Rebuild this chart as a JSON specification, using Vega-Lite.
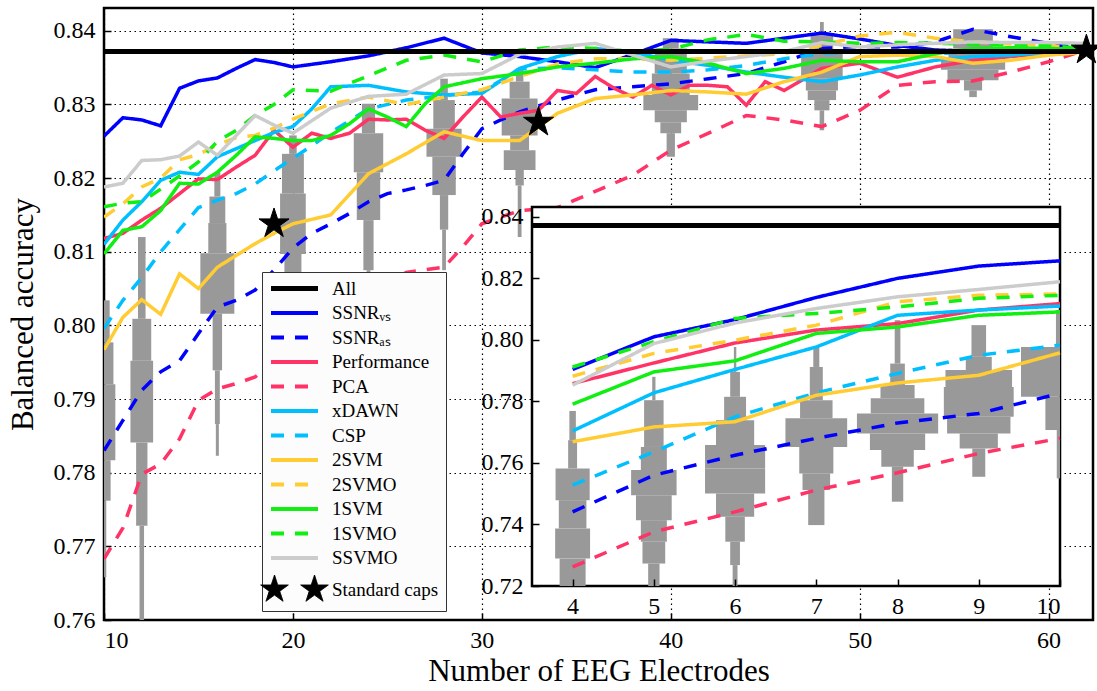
{
  "$schema": "https://vega.github.io/schema/vega-lite/v6.json",
  "width": 989,
  "height": 612,
  "autosize": {"type": "none"},
  "padding": {"left": 104, "top": 8, "right": 4, "bottom": 71},
  "background": "white",
  "config": {
    "font": "Liberation Serif",
    "view": {"stroke": "black", "strokeWidth": 2.5},
    "style": {"guide-label": {"font": "Liberation Serif"}, "guide-title": {"font": "Liberation Serif"}},
    "axis": {
      "labelFont": "Liberation Serif", "labelFontSize": 24, "labelColor": "black",
      "titleFont": "Liberation Serif", "titleFontSize": 31, "titleFontWeight": "normal", "titleColor": "black",
      "grid": true, "gridColor": "black", "gridDash": [1.5, 3.5], "gridWidth": 1.2, "gridOpacity": 1,
      "domain": false, "tickColor": "black", "tickWidth": 1.5, "tickSize": -7, "labelPadding": 16
    }
  },
  "datasets": {
    "all": [{"a": 0.8372}],
    "caps": [{"n": 19, "a": 0.8138}, {"n": 33, "a": 0.8276}, {"n": 62, "a": 0.8374}],
    "viol": [
      {"n":10,"lo":0.7977,"hi":0.8034,"w":0.3},{"n":10,"lo":0.7920,"hi":0.7977,"w":0.5},{"n":10,"lo":0.7817,"hi":0.7920,"w":0.6},{"n":10,"lo":0.7762,"hi":0.7817,"w":0.35},{"n":10,"lo":0.7658,"hi":0.7762,"w":0.12},
      {"n":12,"lo":0.8009,"hi":0.8120,"w":0.2},{"n":12,"lo":0.7952,"hi":0.8009,"w":0.5},{"n":12,"lo":0.7841,"hi":0.7952,"w":0.6},{"n":12,"lo":0.7728,"hi":0.7841,"w":0.3},{"n":12,"lo":0.7550,"hi":0.7728,"w":0.12},
      {"n":16,"lo":0.8175,"hi":0.8208,"w":0.16},{"n":16,"lo":0.8139,"hi":0.8175,"w":0.42},{"n":16,"lo":0.8098,"hi":0.8139,"w":0.48},{"n":16,"lo":0.8016,"hi":0.8098,"w":0.9},{"n":16,"lo":0.7939,"hi":0.8016,"w":0.25},{"n":16,"lo":0.7866,"hi":0.7939,"w":0.13},{"n":16,"lo":0.7823,"hi":0.7866,"w":0.08},
      {"n":20,"lo":0.8233,"hi":0.8258,"w":0.2},{"n":20,"lo":0.8179,"hi":0.8233,"w":0.58},{"n":20,"lo":0.8097,"hi":0.8179,"w":0.68},{"n":20,"lo":0.8060,"hi":0.8097,"w":0.45},
      {"n":24,"lo":0.8261,"hi":0.8301,"w":0.35},{"n":24,"lo":0.8208,"hi":0.8261,"w":0.78},{"n":24,"lo":0.8143,"hi":0.8208,"w":0.62},{"n":24,"lo":0.8075,"hi":0.8143,"w":0.27},{"n":24,"lo":0.8030,"hi":0.8075,"w":0.1},
      {"n":28,"lo":0.8306,"hi":0.8335,"w":0.2},{"n":28,"lo":0.8267,"hi":0.8306,"w":0.57},{"n":28,"lo":0.8229,"hi":0.8267,"w":0.93},{"n":28,"lo":0.8177,"hi":0.8229,"w":0.62},{"n":28,"lo":0.8130,"hi":0.8177,"w":0.22},{"n":28,"lo":0.8075,"hi":0.8130,"w":0.1},
      {"n":32,"lo":0.8331,"hi":0.8349,"w":0.2},{"n":32,"lo":0.8308,"hi":0.8331,"w":0.53},{"n":32,"lo":0.8258,"hi":0.8308,"w":0.95},{"n":32,"lo":0.8238,"hi":0.8258,"w":0.5},{"n":32,"lo":0.8211,"hi":0.8238,"w":0.84},{"n":32,"lo":0.8190,"hi":0.8211,"w":0.22},{"n":32,"lo":0.8120,"hi":0.8190,"w":0.1},
      {"n":40,"lo":0.8376,"hi":0.8390,"w":0.42},{"n":40,"lo":0.8342,"hi":0.8376,"w":0.85},{"n":40,"lo":0.8313,"hi":0.8342,"w":1.0},{"n":40,"lo":0.8292,"hi":0.8313,"w":1.45},{"n":40,"lo":0.8276,"hi":0.8292,"w":0.85},{"n":40,"lo":0.8261,"hi":0.8276,"w":0.55},{"n":40,"lo":0.8229,"hi":0.8261,"w":0.22},
      {"n":48,"lo":0.8395,"hi":0.8412,"w":0.1},{"n":48,"lo":0.8374,"hi":0.8395,"w":0.6},{"n":48,"lo":0.8335,"hi":0.8374,"w":1.1},{"n":48,"lo":0.8319,"hi":0.8335,"w":0.85},{"n":48,"lo":0.8306,"hi":0.8319,"w":0.75},{"n":48,"lo":0.8292,"hi":0.8306,"w":0.4},{"n":48,"lo":0.8265,"hi":0.8292,"w":0.12},
      {"n":56,"lo":0.8376,"hi":0.8402,"w":1.05},{"n":56,"lo":0.8360,"hi":0.8376,"w":1.3},{"n":56,"lo":0.8347,"hi":0.8360,"w":1.7},{"n":56,"lo":0.8333,"hi":0.8347,"w":1.35},{"n":56,"lo":0.8319,"hi":0.8333,"w":0.48},{"n":56,"lo":0.8310,"hi":0.8319,"w":0.2}
    ],
    "iviol": [
      {"n":4,"lo":0.7674,"hi":0.7769,"w":0.04},{"n":4,"lo":0.7582,"hi":0.7674,"w":0.055},{"n":4,"lo":0.7479,"hi":0.7582,"w":0.21},{"n":4,"lo":0.7387,"hi":0.7479,"w":0.17},{"n":4,"lo":0.7289,"hi":0.7387,"w":0.215},{"n":4,"lo":0.72,"hi":0.7289,"w":0.16},
      {"n":5,"lo":0.7804,"hi":0.7880,"w":0.02},{"n":5,"lo":0.7652,"hi":0.7804,"w":0.12},{"n":5,"lo":0.7577,"hi":0.7652,"w":0.16},{"n":5,"lo":0.7495,"hi":0.7577,"w":0.28},{"n":5,"lo":0.7414,"hi":0.7495,"w":0.22},{"n":5,"lo":0.7344,"hi":0.7414,"w":0.16},{"n":5,"lo":0.7273,"hi":0.7344,"w":0.14},{"n":5,"lo":0.72,"hi":0.7273,"w":0.07},
      {"n":6,"lo":0.7896,"hi":0.7977,"w":0.015},{"n":6,"lo":0.7815,"hi":0.7896,"w":0.06},{"n":6,"lo":0.7739,"hi":0.7815,"w":0.135},{"n":6,"lo":0.7658,"hi":0.7739,"w":0.235},{"n":6,"lo":0.7582,"hi":0.7658,"w":0.37},{"n":6,"lo":0.7501,"hi":0.7582,"w":0.37},{"n":6,"lo":0.7425,"hi":0.7501,"w":0.235},{"n":6,"lo":0.7344,"hi":0.7425,"w":0.12},{"n":6,"lo":0.7268,"hi":0.7344,"w":0.06},{"n":6,"lo":0.72,"hi":0.7268,"w":0.03},
      {"n":7,"lo":0.7912,"hi":0.7977,"w":0.037},{"n":7,"lo":0.7804,"hi":0.7912,"w":0.08},{"n":7,"lo":0.7745,"hi":0.7804,"w":0.2},{"n":7,"lo":0.7652,"hi":0.7745,"w":0.38},{"n":7,"lo":0.7566,"hi":0.7652,"w":0.21},{"n":7,"lo":0.7512,"hi":0.7566,"w":0.17},{"n":7,"lo":0.7398,"hi":0.7512,"w":0.1},
      {"n":8,"lo":0.7923,"hi":0.8064,"w":0.035},{"n":8,"lo":0.7853,"hi":0.7923,"w":0.09},{"n":8,"lo":0.7810,"hi":0.7853,"w":0.21},{"n":8,"lo":0.7761,"hi":0.7810,"w":0.33},{"n":8,"lo":0.7696,"hi":0.7761,"w":0.5},{"n":8,"lo":0.7642,"hi":0.7696,"w":0.34},{"n":8,"lo":0.7588,"hi":0.7642,"w":0.2},{"n":8,"lo":0.7474,"hi":0.7588,"w":0.07},
      {"n":9,"lo":0.7945,"hi":0.8048,"w":0.09},{"n":9,"lo":0.7902,"hi":0.7945,"w":0.16},{"n":9,"lo":0.7847,"hi":0.7902,"w":0.41},{"n":9,"lo":0.7750,"hi":0.7847,"w":0.43},{"n":9,"lo":0.7696,"hi":0.7750,"w":0.39},{"n":9,"lo":0.7647,"hi":0.7696,"w":0.235},{"n":9,"lo":0.7555,"hi":0.7647,"w":0.08},
      {"n":10,"lo":0.7977,"hi":0.8097,"w":0.05},{"n":10,"lo":0.7815,"hi":0.7977,"w":0.48},{"n":10,"lo":0.7707,"hi":0.7815,"w":0.18},{"n":10,"lo":0.7550,"hi":0.7707,"w":0.04}
    ],
    "lines": [
      {"s":"SSNR_VS","n":10,"a":0.8257},{"s":"SSNR_VS","n":11,"a":0.8282},{"s":"SSNR_VS","n":12,"a":0.8279},{"s":"SSNR_VS","n":13,"a":0.8271},{"s":"SSNR_VS","n":14,"a":0.8322},{"s":"SSNR_VS","n":15,"a":0.8332},{"s":"SSNR_VS","n":16,"a":0.8336},{"s":"SSNR_VS","n":17,"a":0.8349},{"s":"SSNR_VS","n":18,"a":0.8361},{"s":"SSNR_VS","n":19,"a":0.8357},{"s":"SSNR_VS","n":20,"a":0.8351},{"s":"SSNR_VS","n":22,"a":0.8358},{"s":"SSNR_VS","n":24,"a":0.8366},{"s":"SSNR_VS","n":26,"a":0.8377},{"s":"SSNR_VS","n":28,"a":0.8390},{"s":"SSNR_VS","n":30,"a":0.8370},{"s":"SSNR_VS","n":32,"a":0.8365},{"s":"SSNR_VS","n":34,"a":0.8358},{"s":"SSNR_VS","n":36,"a":0.8350},{"s":"SSNR_VS","n":38,"a":0.8368},{"s":"SSNR_VS","n":40,"a":0.8387},{"s":"SSNR_VS","n":42,"a":0.8385},{"s":"SSNR_VS","n":44,"a":0.8383},{"s":"SSNR_VS","n":46,"a":0.8390},{"s":"SSNR_VS","n":48,"a":0.8397},{"s":"SSNR_VS","n":50,"a":0.8389},{"s":"SSNR_VS","n":52,"a":0.8380},{"s":"SSNR_VS","n":54,"a":0.8374},{"s":"SSNR_VS","n":56,"a":0.8372},{"s":"SSNR_VS","n":58,"a":0.8373},{"s":"SSNR_VS","n":60,"a":0.8373},{"s":"SSNR_VS","n":62,"a":0.8373},
      {"s":"SSNR_AS","n":10,"a":0.7830},{"s":"SSNR_AS","n":11,"a":0.7871},{"s":"SSNR_AS","n":12,"a":0.7912},{"s":"SSNR_AS","n":13,"a":0.7937},{"s":"SSNR_AS","n":14,"a":0.7952},{"s":"SSNR_AS","n":15,"a":0.7989},{"s":"SSNR_AS","n":16,"a":0.8025},{"s":"SSNR_AS","n":17,"a":0.8034},{"s":"SSNR_AS","n":18,"a":0.8048},{"s":"SSNR_AS","n":19,"a":0.8075},{"s":"SSNR_AS","n":20,"a":0.8105},{"s":"SSNR_AS","n":21,"a":0.8125},{"s":"SSNR_AS","n":22,"a":0.8138},{"s":"SSNR_AS","n":23,"a":0.8152},{"s":"SSNR_AS","n":24,"a":0.8168},{"s":"SSNR_AS","n":25,"a":0.8179},{"s":"SSNR_AS","n":26,"a":0.8184},{"s":"SSNR_AS","n":27,"a":0.8190},{"s":"SSNR_AS","n":28,"a":0.8197},{"s":"SSNR_AS","n":29,"a":0.8233},{"s":"SSNR_AS","n":30,"a":0.8267},{"s":"SSNR_AS","n":31,"a":0.8279},{"s":"SSNR_AS","n":32,"a":0.8290},{"s":"SSNR_AS","n":34,"a":0.8306},{"s":"SSNR_AS","n":36,"a":0.8320},{"s":"SSNR_AS","n":38,"a":0.8324},{"s":"SSNR_AS","n":40,"a":0.8328},{"s":"SSNR_AS","n":42,"a":0.8335},{"s":"SSNR_AS","n":44,"a":0.8342},{"s":"SSNR_AS","n":46,"a":0.8358},{"s":"SSNR_AS","n":48,"a":0.8376},{"s":"SSNR_AS","n":50,"a":0.8379},{"s":"SSNR_AS","n":52,"a":0.8378},{"s":"SSNR_AS","n":54,"a":0.8385},{"s":"SSNR_AS","n":56,"a":0.8402},{"s":"SSNR_AS","n":58,"a":0.8392},{"s":"SSNR_AS","n":60,"a":0.8383},{"s":"SSNR_AS","n":62,"a":0.8375},
      {"s":"Performance","n":10,"a":0.8118},{"s":"Performance","n":11,"a":0.8125},{"s":"Performance","n":12,"a":0.8143},{"s":"Performance","n":13,"a":0.8159},{"s":"Performance","n":14,"a":0.8179},{"s":"Performance","n":15,"a":0.8199},{"s":"Performance","n":16,"a":0.8198},{"s":"Performance","n":17,"a":0.8215},{"s":"Performance","n":18,"a":0.8231},{"s":"Performance","n":19,"a":0.8265},{"s":"Performance","n":20,"a":0.8242},{"s":"Performance","n":21,"a":0.8261},{"s":"Performance","n":22,"a":0.8254},{"s":"Performance","n":23,"a":0.8261},{"s":"Performance","n":24,"a":0.8280},{"s":"Performance","n":25,"a":0.8279},{"s":"Performance","n":26,"a":0.8280},{"s":"Performance","n":27,"a":0.8265},{"s":"Performance","n":28,"a":0.8254},{"s":"Performance","n":29,"a":0.8283},{"s":"Performance","n":30,"a":0.8310},{"s":"Performance","n":31,"a":0.8283},{"s":"Performance","n":32,"a":0.8288},{"s":"Performance","n":33,"a":0.8292},{"s":"Performance","n":34,"a":0.8319},{"s":"Performance","n":35,"a":0.8315},{"s":"Performance","n":36,"a":0.8338},{"s":"Performance","n":37,"a":0.8322},{"s":"Performance","n":38,"a":0.8310},{"s":"Performance","n":39,"a":0.8326},{"s":"Performance","n":40,"a":0.8313},{"s":"Performance","n":41,"a":0.8326},{"s":"Performance","n":42,"a":0.8326},{"s":"Performance","n":43,"a":0.8324},{"s":"Performance","n":44,"a":0.8299},{"s":"Performance","n":45,"a":0.8331},{"s":"Performance","n":46,"a":0.8319},{"s":"Performance","n":48,"a":0.8349},{"s":"Performance","n":50,"a":0.8356},{"s":"Performance","n":52,"a":0.8337},{"s":"Performance","n":54,"a":0.8351},{"s":"Performance","n":56,"a":0.8360},{"s":"Performance","n":58,"a":0.8365},{"s":"Performance","n":60,"a":0.8369},{"s":"Performance","n":62,"a":0.8374},
      {"s":"PCA","n":10,"a":0.7683},{"s":"PCA","n":11,"a":0.7725},{"s":"PCA","n":12,"a":0.7798},{"s":"PCA","n":13,"a":0.7812},{"s":"PCA","n":14,"a":0.7846},{"s":"PCA","n":15,"a":0.7898},{"s":"PCA","n":16,"a":0.7914},{"s":"PCA","n":17,"a":0.7921},{"s":"PCA","n":18,"a":0.7930},{"s":"PCA","n":20,"a":0.7975},{"s":"PCA","n":22,"a":0.8015},{"s":"PCA","n":24,"a":0.8045},{"s":"PCA","n":26,"a":0.8072},{"s":"PCA","n":28,"a":0.8079},{"s":"PCA","n":29,"a":0.8107},{"s":"PCA","n":30,"a":0.8138},{"s":"PCA","n":32,"a":0.8156},{"s":"PCA","n":34,"a":0.8160},{"s":"PCA","n":36,"a":0.8182},{"s":"PCA","n":38,"a":0.8204},{"s":"PCA","n":40,"a":0.8238},{"s":"PCA","n":42,"a":0.8261},{"s":"PCA","n":44,"a":0.8285},{"s":"PCA","n":46,"a":0.8279},{"s":"PCA","n":48,"a":0.8270},{"s":"PCA","n":50,"a":0.8292},{"s":"PCA","n":52,"a":0.8326},{"s":"PCA","n":54,"a":0.8331},{"s":"PCA","n":56,"a":0.8332},{"s":"PCA","n":58,"a":0.8344},{"s":"PCA","n":60,"a":0.8358},{"s":"PCA","n":62,"a":0.8374},
      {"s":"xDAWN","n":10,"a":0.8110},{"s":"xDAWN","n":11,"a":0.8143},{"s":"xDAWN","n":12,"a":0.8168},{"s":"xDAWN","n":13,"a":0.8197},{"s":"xDAWN","n":14,"a":0.8208},{"s":"xDAWN","n":15,"a":0.8205},{"s":"xDAWN","n":16,"a":0.8229},{"s":"xDAWN","n":17,"a":0.8240},{"s":"xDAWN","n":18,"a":0.8251},{"s":"xDAWN","n":19,"a":0.8262},{"s":"xDAWN","n":20,"a":0.8270},{"s":"xDAWN","n":21,"a":0.8294},{"s":"xDAWN","n":22,"a":0.8324},{"s":"xDAWN","n":24,"a":0.8326},{"s":"xDAWN","n":26,"a":0.8317},{"s":"xDAWN","n":28,"a":0.8313},{"s":"xDAWN","n":30,"a":0.8315},{"s":"xDAWN","n":32,"a":0.8349},{"s":"xDAWN","n":34,"a":0.8365},{"s":"xDAWN","n":36,"a":0.8376},{"s":"xDAWN","n":38,"a":0.8371},{"s":"xDAWN","n":40,"a":0.8360},{"s":"xDAWN","n":42,"a":0.8353},{"s":"xDAWN","n":44,"a":0.8344},{"s":"xDAWN","n":46,"a":0.8337},{"s":"xDAWN","n":48,"a":0.8331},{"s":"xDAWN","n":50,"a":0.8340},{"s":"xDAWN","n":52,"a":0.8351},{"s":"xDAWN","n":54,"a":0.8360},{"s":"xDAWN","n":56,"a":0.8365},{"s":"xDAWN","n":58,"a":0.8367},{"s":"xDAWN","n":60,"a":0.8371},{"s":"xDAWN","n":62,"a":0.8374},
      {"s":"CSP","n":10,"a":0.7996},{"s":"CSP","n":11,"a":0.8034},{"s":"CSP","n":12,"a":0.8065},{"s":"CSP","n":13,"a":0.8100},{"s":"CSP","n":14,"a":0.8130},{"s":"CSP","n":15,"a":0.8160},{"s":"CSP","n":16,"a":0.8170},{"s":"CSP","n":17,"a":0.8179},{"s":"CSP","n":18,"a":0.8192},{"s":"CSP","n":19,"a":0.8210},{"s":"CSP","n":20,"a":0.8227},{"s":"CSP","n":21,"a":0.8244},{"s":"CSP","n":22,"a":0.8262},{"s":"CSP","n":24,"a":0.8294},{"s":"CSP","n":26,"a":0.8306},{"s":"CSP","n":28,"a":0.8312},{"s":"CSP","n":30,"a":0.8317},{"s":"CSP","n":32,"a":0.8348},{"s":"CSP","n":34,"a":0.8350},{"s":"CSP","n":36,"a":0.8347},{"s":"CSP","n":38,"a":0.8344},{"s":"CSP","n":40,"a":0.8344},{"s":"CSP","n":42,"a":0.8347},{"s":"CSP","n":44,"a":0.8353},{"s":"CSP","n":46,"a":0.8362},{"s":"CSP","n":48,"a":0.8369},{"s":"CSP","n":50,"a":0.8372},{"s":"CSP","n":52,"a":0.8370},{"s":"CSP","n":54,"a":0.8369},{"s":"CSP","n":56,"a":0.8371},{"s":"CSP","n":58,"a":0.8372},{"s":"CSP","n":60,"a":0.8373},{"s":"CSP","n":62,"a":0.8374},
      {"s":"2SVM","n":10,"a":0.7967},{"s":"2SVM","n":11,"a":0.8011},{"s":"2SVM","n":12,"a":0.8035},{"s":"2SVM","n":13,"a":0.8015},{"s":"2SVM","n":14,"a":0.8070},{"s":"2SVM","n":15,"a":0.8050},{"s":"2SVM","n":16,"a":0.8079},{"s":"2SVM","n":17,"a":0.8095},{"s":"2SVM","n":18,"a":0.8111},{"s":"2SVM","n":19,"a":0.8125},{"s":"2SVM","n":20,"a":0.8138},{"s":"2SVM","n":22,"a":0.8150},{"s":"2SVM","n":24,"a":0.8206},{"s":"2SVM","n":26,"a":0.8233},{"s":"2SVM","n":28,"a":0.8263},{"s":"2SVM","n":30,"a":0.8251},{"s":"2SVM","n":32,"a":0.8251},{"s":"2SVM","n":34,"a":0.8288},{"s":"2SVM","n":36,"a":0.8308},{"s":"2SVM","n":38,"a":0.8313},{"s":"2SVM","n":40,"a":0.8319},{"s":"2SVM","n":42,"a":0.8317},{"s":"2SVM","n":44,"a":0.8314},{"s":"2SVM","n":46,"a":0.8331},{"s":"2SVM","n":48,"a":0.8344},{"s":"2SVM","n":50,"a":0.8365},{"s":"2SVM","n":52,"a":0.8367},{"s":"2SVM","n":54,"a":0.8365},{"s":"2SVM","n":56,"a":0.8356},{"s":"2SVM","n":58,"a":0.8360},{"s":"2SVM","n":60,"a":0.8367},{"s":"2SVM","n":62,"a":0.8371},
      {"s":"2SVMO","n":10,"a":0.8147},{"s":"2SVMO","n":11,"a":0.8165},{"s":"2SVMO","n":12,"a":0.8188},{"s":"2SVMO","n":13,"a":0.8200},{"s":"2SVMO","n":14,"a":0.8225},{"s":"2SVMO","n":15,"a":0.8232},{"s":"2SVMO","n":16,"a":0.8245},{"s":"2SVMO","n":17,"a":0.8255},{"s":"2SVMO","n":18,"a":0.8258},{"s":"2SVMO","n":19,"a":0.8268},{"s":"2SVMO","n":20,"a":0.8280},{"s":"2SVMO","n":22,"a":0.8301},{"s":"2SVMO","n":24,"a":0.8310},{"s":"2SVMO","n":26,"a":0.8300},{"s":"2SVMO","n":28,"a":0.8310},{"s":"2SVMO","n":30,"a":0.8320},{"s":"2SVMO","n":32,"a":0.8338},{"s":"2SVMO","n":34,"a":0.8355},{"s":"2SVMO","n":36,"a":0.8362},{"s":"2SVMO","n":38,"a":0.8362},{"s":"2SVMO","n":40,"a":0.8360},{"s":"2SVMO","n":42,"a":0.8363},{"s":"2SVMO","n":44,"a":0.8366},{"s":"2SVMO","n":46,"a":0.8369},{"s":"2SVMO","n":48,"a":0.8380},{"s":"2SVMO","n":50,"a":0.8393},{"s":"2SVMO","n":52,"a":0.8398},{"s":"2SVMO","n":54,"a":0.8390},{"s":"2SVMO","n":56,"a":0.8385},{"s":"2SVMO","n":58,"a":0.8382},{"s":"2SVMO","n":60,"a":0.8380},{"s":"2SVMO","n":62,"a":0.8375},
      {"s":"1SVM","n":10,"a":0.8097},{"s":"1SVM","n":11,"a":0.8129},{"s":"1SVM","n":12,"a":0.8134},{"s":"1SVM","n":13,"a":0.8156},{"s":"1SVM","n":14,"a":0.8193},{"s":"1SVM","n":15,"a":0.8192},{"s":"1SVM","n":16,"a":0.8208},{"s":"1SVM","n":17,"a":0.8231},{"s":"1SVM","n":18,"a":0.8256},{"s":"1SVM","n":19,"a":0.8254},{"s":"1SVM","n":20,"a":0.8251},{"s":"1SVM","n":21,"a":0.8251},{"s":"1SVM","n":22,"a":0.8258},{"s":"1SVM","n":23,"a":0.8274},{"s":"1SVM","n":24,"a":0.8294},{"s":"1SVM","n":25,"a":0.8283},{"s":"1SVM","n":26,"a":0.8270},{"s":"1SVM","n":27,"a":0.8301},{"s":"1SVM","n":28,"a":0.8324},{"s":"1SVM","n":30,"a":0.8335},{"s":"1SVM","n":32,"a":0.8342},{"s":"1SVM","n":34,"a":0.8351},{"s":"1SVM","n":36,"a":0.8356},{"s":"1SVM","n":38,"a":0.8362},{"s":"1SVM","n":40,"a":0.8365},{"s":"1SVM","n":42,"a":0.8356},{"s":"1SVM","n":44,"a":0.8342},{"s":"1SVM","n":46,"a":0.8349},{"s":"1SVM","n":48,"a":0.8360},{"s":"1SVM","n":50,"a":0.8358},{"s":"1SVM","n":52,"a":0.8358},{"s":"1SVM","n":54,"a":0.8369},{"s":"1SVM","n":56,"a":0.8376},{"s":"1SVM","n":58,"a":0.8377},{"s":"1SVM","n":60,"a":0.8376},{"s":"1SVM","n":62,"a":0.8375},
      {"s":"1SVMO","n":10,"a":0.8161},{"s":"1SVMO","n":11,"a":0.8166},{"s":"1SVMO","n":12,"a":0.8168},{"s":"1SVMO","n":13,"a":0.8185},{"s":"1SVMO","n":14,"a":0.8203},{"s":"1SVMO","n":15,"a":0.8222},{"s":"1SVMO","n":16,"a":0.8250},{"s":"1SVMO","n":17,"a":0.8265},{"s":"1SVMO","n":18,"a":0.8285},{"s":"1SVMO","n":19,"a":0.8300},{"s":"1SVMO","n":20,"a":0.8320},{"s":"1SVMO","n":22,"a":0.8318},{"s":"1SVMO","n":24,"a":0.8339},{"s":"1SVMO","n":26,"a":0.8360},{"s":"1SVMO","n":28,"a":0.8367},{"s":"1SVMO","n":30,"a":0.8358},{"s":"1SVMO","n":32,"a":0.8374},{"s":"1SVMO","n":34,"a":0.8378},{"s":"1SVMO","n":36,"a":0.8376},{"s":"1SVMO","n":38,"a":0.8372},{"s":"1SVMO","n":40,"a":0.8375},{"s":"1SVMO","n":42,"a":0.8388},{"s":"1SVMO","n":44,"a":0.8395},{"s":"1SVMO","n":46,"a":0.8386},{"s":"1SVMO","n":48,"a":0.8385},{"s":"1SVMO","n":50,"a":0.8383},{"s":"1SVMO","n":52,"a":0.8384},{"s":"1SVMO","n":54,"a":0.8383},{"s":"1SVMO","n":56,"a":0.8382},{"s":"1SVMO","n":58,"a":0.8381},{"s":"1SVMO","n":60,"a":0.8380},{"s":"1SVMO","n":62,"a":0.8376},
      {"s":"SSVMO","n":10,"a":0.8188},{"s":"SSVMO","n":11,"a":0.8193},{"s":"SSVMO","n":12,"a":0.8224},{"s":"SSVMO","n":13,"a":0.8225},{"s":"SSVMO","n":14,"a":0.8230},{"s":"SSVMO","n":15,"a":0.8249},{"s":"SSVMO","n":16,"a":0.8231},{"s":"SSVMO","n":17,"a":0.8258},{"s":"SSVMO","n":18,"a":0.8285},{"s":"SSVMO","n":19,"a":0.8272},{"s":"SSVMO","n":20,"a":0.8261},{"s":"SSVMO","n":22,"a":0.8295},{"s":"SSVMO","n":24,"a":0.8311},{"s":"SSVMO","n":26,"a":0.8314},{"s":"SSVMO","n":28,"a":0.8340},{"s":"SSVMO","n":30,"a":0.8342},{"s":"SSVMO","n":32,"a":0.8368},{"s":"SSVMO","n":34,"a":0.8378},{"s":"SSVMO","n":36,"a":0.8383},{"s":"SSVMO","n":38,"a":0.8367},{"s":"SSVMO","n":40,"a":0.8351},{"s":"SSVMO","n":42,"a":0.8359},{"s":"SSVMO","n":44,"a":0.8365},{"s":"SSVMO","n":46,"a":0.8372},{"s":"SSVMO","n":48,"a":0.8384},{"s":"SSVMO","n":50,"a":0.8378},{"s":"SSVMO","n":52,"a":0.8381},{"s":"SSVMO","n":54,"a":0.8383},{"s":"SSVMO","n":56,"a":0.8385},{"s":"SSVMO","n":58,"a":0.8384},{"s":"SSVMO","n":60,"a":0.8384},{"s":"SSVMO","n":62,"a":0.8383}
    ],
    "ilines": [
      {"s":"SSNR_VS","n":4,"a":0.7904},{"s":"SSNR_VS","n":5,"a":0.8010},{"s":"SSNR_VS","n":6,"a":0.8066},{"s":"SSNR_VS","n":7,"a":0.8138},{"s":"SSNR_VS","n":8,"a":0.8200},{"s":"SSNR_VS","n":9,"a":0.8240},{"s":"SSNR_VS","n":10,"a":0.8257},
      {"s":"SSNR_AS","n":4,"a":0.7441},{"s":"SSNR_AS","n":5,"a":0.7560},{"s":"SSNR_AS","n":6,"a":0.7625},{"s":"SSNR_AS","n":7,"a":0.7680},{"s":"SSNR_AS","n":8,"a":0.7730},{"s":"SSNR_AS","n":9,"a":0.7761},{"s":"SSNR_AS","n":10,"a":0.7826},
      {"s":"Performance","n":4,"a":0.7858},{"s":"Performance","n":5,"a":0.7925},{"s":"Performance","n":6,"a":0.7990},{"s":"Performance","n":7,"a":0.8032},{"s":"Performance","n":8,"a":0.8053},{"s":"Performance","n":9,"a":0.8097},{"s":"Performance","n":10,"a":0.8118},
      {"s":"PCA","n":4,"a":0.7262},{"s":"PCA","n":5,"a":0.7376},{"s":"PCA","n":6,"a":0.7441},{"s":"PCA","n":7,"a":0.7512},{"s":"PCA","n":8,"a":0.7568},{"s":"PCA","n":9,"a":0.7631},{"s":"PCA","n":10,"a":0.7680},
      {"s":"xDAWN","n":4,"a":0.7704},{"s":"xDAWN","n":5,"a":0.7828},{"s":"xDAWN","n":6,"a":0.7904},{"s":"xDAWN","n":7,"a":0.7977},{"s":"xDAWN","n":8,"a":0.8080},{"s":"xDAWN","n":9,"a":0.8097},{"s":"xDAWN","n":10,"a":0.8110},
      {"s":"CSP","n":4,"a":0.7528},{"s":"CSP","n":5,"a":0.7636},{"s":"CSP","n":6,"a":0.7750},{"s":"CSP","n":7,"a":0.7828},{"s":"CSP","n":8,"a":0.7891},{"s":"CSP","n":9,"a":0.7950},{"s":"CSP","n":10,"a":0.7983},
      {"s":"2SVM","n":4,"a":0.7669},{"s":"2SVM","n":5,"a":0.7717},{"s":"2SVM","n":6,"a":0.7734},{"s":"2SVM","n":7,"a":0.7820},{"s":"2SVM","n":8,"a":0.7860},{"s":"2SVM","n":9,"a":0.7885},{"s":"2SVM","n":10,"a":0.7958},
      {"s":"2SVMO","n":4,"a":0.7882},{"s":"2SVMO","n":5,"a":0.7956},{"s":"2SVMO","n":6,"a":0.7999},{"s":"2SVMO","n":7,"a":0.8048},{"s":"2SVMO","n":8,"a":0.8124},{"s":"2SVMO","n":9,"a":0.8145},{"s":"2SVMO","n":10,"a":0.8149},
      {"s":"1SVM","n":4,"a":0.7791},{"s":"1SVM","n":5,"a":0.7896},{"s":"1SVM","n":6,"a":0.7932},{"s":"1SVM","n":7,"a":0.8021},{"s":"1SVM","n":8,"a":0.8042},{"s":"1SVM","n":9,"a":0.8080},{"s":"1SVM","n":10,"a":0.8091},
      {"s":"1SVMO","n":4,"a":0.7912},{"s":"1SVMO","n":5,"a":0.7994},{"s":"1SVMO","n":6,"a":0.8070},{"s":"1SVMO","n":7,"a":0.8086},{"s":"1SVMO","n":8,"a":0.8107},{"s":"1SVMO","n":9,"a":0.8135},{"s":"1SVMO","n":10,"a":0.8145},
      {"s":"SSVMO","n":4,"a":0.7853},{"s":"SSVMO","n":5,"a":0.7988},{"s":"SSVMO","n":6,"a":0.8055},{"s":"SSVMO","n":7,"a":0.8102},{"s":"SSVMO","n":8,"a":0.8140},{"s":"SSVMO","n":9,"a":0.8164},{"s":"SSVMO","n":10,"a":0.8189}
    ]
  },
  "layer": [
    {
      "layer": [
        {
          "data": {"name": "viol"},
          "transform": [{"calculate": "datum.n - datum.w", "as": "x1"}, {"calculate": "datum.n + datum.w", "as": "x2"}],
          "mark": {"type": "rect", "color": "#999999", "clip": true},
          "encoding": {
            "x": {"field": "x1", "type": "quantitative", "title": "Number of EEG Electrodes",
                  "scale": {"domain": [10, 62.35], "nice": false, "zero": false},
                  "axis": {"values": [10, 20, 30, 40, 50, 60], "titlePadding": 4, "zindex": 0, "labelPadding": 15, "labelFont": "Liberation Serif", "titleFont": "Liberation Serif"}},
            "x2": {"field": "x2"},
            "y": {"field": "lo", "type": "quantitative", "title": "Balanced accuracy",
                  "scale": {"domain": [0.76, 0.8431], "nice": false, "zero": false},
                  "axis": {"values": [0.76, 0.77, 0.78, 0.79, 0.80, 0.81, 0.82, 0.83, 0.84], "format": ".2f", "titlePadding": 14, "zindex": 0, "labelFont": "Liberation Serif", "titleFont": "Liberation Serif"}},
            "y2": {"field": "hi"}
          }
        },
        {
          "data": {"name": "lines"},
          "mark": {"type": "line", "strokeWidth": 3.5, "clip": true},
          "encoding": {
            "x": {"field": "n", "type": "quantitative", "title": "Number of EEG Electrodes"},
            "y": {"field": "a", "type": "quantitative", "title": "Balanced accuracy"},
            "color": {"field": "s", "type": "nominal",
              "scale": {"domain": ["All","SSNR_VS","SSNR_AS","Performance","PCA","xDAWN","CSP","2SVM","2SVMO","1SVM","1SVMO","SSVMO","Standard caps"],
                        "range": ["#000000","#0000ff","#0000ff","#ff3366","#ff3366","#00bfff","#00bfff","#ffcc33","#ffcc33","#11ee11","#11ee11","#cccccc","#000000"]},
              "legend": {
                "title": null, "orient": "none", "legendX": 158, "legendY": 264,
                "labelExpr": "datum.label == 'SSNR_VS' ? 'SSNRᵥₛ' : (datum.label == 'SSNR_AS' ? 'SSNRₐₛ' : datum.label)",
                "symbolSize": 100, "symbolStrokeWidth": 4, "symbolOffset": 16, "labelOffset": 28,
                "fillColor": "#fcfcfc", "strokeColor": "#333333", "padding": 7, "rowPadding": 4.5,
                "labelFont": "Liberation Serif", "labelFontSize": 19, "labelColor": "black", "labelLimit": 300,
                "encode": {"symbols": {"update": {
                  "shape": {"signal": "datum.value === 'Standard caps' ? 'M-4,-2.9L-3.35,-0.9L-1.24,-0.9L-2.95,0.34L-2.29,2.35L-4,1.11L-5.71,2.35L-5.05,0.34L-6.76,-0.9L-4.65,-0.9ZM4,-2.9L4.65,-0.9L6.76,-0.9L5.05,0.34L5.71,2.35L4,1.11L2.29,2.35L2.95,0.34L1.24,-0.9L3.35,-0.9Z' : 'M-4.7,0L4.7,0'"},
                  "fill": {"signal": "datum.value === 'Standard caps' ? 'black' : 'transparent'"},
                  "strokeWidth": {"signal": "datum.value === 'All' ? 5 : (datum.value === 'Standard caps' ? 1 : 4)"}
                }}}
              }},
            "strokeDash": {"field": "s", "type": "nominal",
              "scale": {"domain": ["All","SSNR_VS","SSNR_AS","Performance","PCA","xDAWN","CSP","2SVM","2SVMO","1SVM","1SVMO","SSVMO","Standard caps"],
                        "range": [[1,0],[1,0],[13,11],[1,0],[13,11],[1,0],[13,11],[1,0],[13,11],[1,0],[13,11],[1,0],[1,0]]}}
          }
        },
        {
          "data": {"name": "all"},
          "mark": {"type": "rule", "color": "black", "strokeWidth": 5},
          "encoding": {"y": {"field": "a", "type": "quantitative", "title": "Balanced accuracy"}}
        },
        {
          "data": {"name": "caps"},
          "mark": {"type": "point", "filled": true, "color": "black", "opacity": 1, "size": 1000, "stroke": "black", "strokeWidth": 1, "clip": false,
                   "shape": "M0,-1L0.2245,-0.309L0.9511,-0.309L0.3633,0.118L0.5878,0.809L0,0.382L-0.5878,0.809L-0.3633,0.118L-0.9511,-0.309L-0.2245,-0.309Z"},
          "encoding": {
            "x": {"field": "n", "type": "quantitative", "title": "Number of EEG Electrodes"},
            "y": {"field": "a", "type": "quantitative", "title": "Balanced accuracy"}
          }
        }
      ]
    },
    {
      "layer": [
        {
          "data": {"values": [{}]},
          "mark": {"type": "rect", "fill": "white", "stroke": "black", "strokeWidth": 2.5},
          "encoding": {
            "x": {"datum": 3.5, "type": "quantitative",
                  "scale": {"domain": [3.5, 10], "range": [428, 956], "clamp": true, "nice": false, "zero": false},
                  "axis": {"orient": "bottom", "offset": -34, "values": [4, 5, 6, 7, 8, 9, 10], "format": "d", "title": null, "zindex": 1, "labelPadding": 15, "labelFont": "Liberation Serif"}},
            "x2": {"datum": 10},
            "y": {"datum": 0.72, "type": "quantitative",
                  "scale": {"domain": [0.72, 0.8432], "range": [578, 199], "clamp": true, "nice": false, "zero": false},
                  "axis": {"orient": "left", "offset": -428, "values": [0.72, 0.74, 0.76, 0.78, 0.80, 0.82, 0.84], "format": ".2f", "title": null, "zindex": 1, "labelFont": "Liberation Serif"}},
            "y2": {"datum": 0.8432}
          }
        },
        {
          "data": {"name": "iviol"},
          "transform": [{"calculate": "datum.n - datum.w", "as": "x1"}, {"calculate": "datum.n + datum.w", "as": "x2"}],
          "mark": {"type": "rect", "color": "#999999"},
          "encoding": {
            "x": {"field": "x1", "type": "quantitative"},
            "x2": {"field": "x2"},
            "y": {"field": "lo", "type": "quantitative"},
            "y2": {"field": "hi"}
          }
        },
        {
          "data": {"name": "ilines"},
          "mark": {"type": "line", "strokeWidth": 3.5},
          "encoding": {
            "x": {"field": "n", "type": "quantitative"},
            "y": {"field": "a", "type": "quantitative"},
            "color": {"field": "s", "type": "nominal"},
            "strokeDash": {"field": "s", "type": "nominal"}
          }
        },
        {
          "data": {"name": "all"},
          "mark": {"type": "rule", "color": "black", "strokeWidth": 5},
          "encoding": {
            "x": {"datum": 3.5, "type": "quantitative"},
            "x2": {"datum": 10},
            "y": {"field": "a", "type": "quantitative"}
          }
        }
      ]
    }
  ],
  "resolve": {"scale": {"x": "independent", "y": "independent"}, "axis": {"x": "independent", "y": "independent"}}
}
